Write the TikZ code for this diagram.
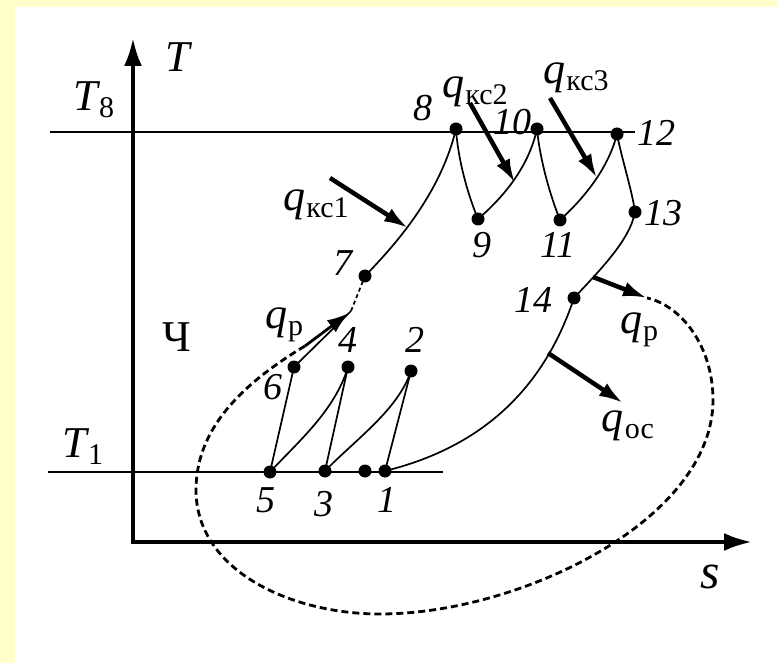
\documentclass[tikz,border=0pt]{standalone}
\usepackage{fontspec}
\setmainfont{Liberation Serif}
\usetikzlibrary{arrows.meta}
\definecolor{bgy}{RGB}{255,255,204}
\newcommand\qq[1]{\textit{q}\kern1pt\raisebox{-7pt}{\fontsize{30}{30}\selectfont\upshape #1}}
\begin{document}
\begin{tikzpicture}[x=1pt,y=-1pt,
  dot/.style={circle,fill=black,inner sep=0pt,minimum size=13pt},
  curve/.style={line width=1.7pt},
  level/.style={line width=2.2pt},
  axis/.style={line width=4pt,-{Latex[length=28pt,width=18pt]}},
  heat/.style={line width=4.5pt,-{Latex[length=24pt,width=15pt]}},
  loopline/.style={line width=2.8pt,dash pattern=on 7pt off 4pt},
  num/.style={font=\fontsize{38}{38}\selectfont\itshape,inner sep=0pt},
  big/.style={font=\fontsize{44}{44}\selectfont\itshape,inner sep=0pt},
  qlbl/.style={font=\fontsize{44}{44}\selectfont,inner sep=0pt},
]
\fill[bgy] (0,0) rectangle (777,663);
\fill[white] (15,7) rectangle (777,663);
\useasboundingbox (0,0) rectangle (777,663);

% axes
\coordinate (o) at (133,544);
\coordinate (ytip) at (133,38);
\coordinate (ox) at (131,542);
\coordinate (xtip) at (752,542);
\draw[axis] (o) -- (ytip);
\draw[axis] (ox) -- (xtip);

% level lines
\coordinate (t8a) at (50,132);
\coordinate (t8b) at (635,132);
\coordinate (t1a) at (48,472);
\coordinate (t1b) at (443,472);
\draw[level] (t8a) -- (t8b);
\draw[level] (t1a) -- (t1b);

% points
\node[dot] (n1) at (385,471) {};
\node[dot] (n2) at (411,371) {};
\node[dot] (n3) at (325,471) {};
\node[dot] (n4) at (348,367) {};
\node[dot] (n5) at (270,472) {};
\node[dot] (n6) at (294,367) {};
\node[dot] (n7) at (365,276) {};
\node[dot] (n8) at (456,129) {};
\node[dot] (n9) at (478,219) {};
\node[dot] (n10) at (537,129) {};
\node[dot] (n11) at (560,220) {};
\node[dot] (n12) at (617,134) {};
\node[dot] (n13) at (635,212) {};
\node[dot] (n14) at (574,298) {};
\node[dot] (ne) at (365,471) {};

% process curves
\draw[curve] (n5.center) -- (n6.center);
\draw[curve] (n5.center) .. controls (300,440) and (335,410) .. (n4.center);
\draw[curve] (n3.center) -- (n4.center);
\draw[curve] (n3.center) .. controls (355,440) and (398,410) .. (n2.center);
\draw[curve] (n1.center) -- (n2.center);
\draw[curve] (n1.center) .. controls (470,450) and (540,400) .. (n14.center);
\draw[curve] (n14.center) .. controls (600,270) and (630,240) .. (n13.center);
\draw[curve] (n12.center) .. controls (622,160) and (632,190) .. (n13.center);
\draw[curve] (n8.center) .. controls (458,160) and (468,195) .. (n9.center);
\draw[curve] (n9.center) .. controls (500,200) and (528,170) .. (n10.center);
\draw[curve] (n10.center) .. controls (540,160) and (550,195) .. (n11.center);
\draw[curve] (n11.center) .. controls (582,200) and (608,170) .. (n12.center);
\draw[curve] (n7.center) .. controls (395,245) and (440,195) .. (n8.center);
\coordinate (m67) at (351,311);
\draw[curve] (n6.center) -- (m67);
\draw[curve,dash pattern=on 4pt off 3pt] (m67) -- (n7.center);

% heat arrows
\coordinate (k1a) at (330,178);
\coordinate (k1b) at (408,228);
\coordinate (k2a) at (470,103);
\coordinate (k2b) at (515,183);
\coordinate (k3a) at (550,98);
\coordinate (k3b) at (597,178);
\coordinate (oca) at (548,353);
\coordinate (ocb) at (623,403);
\coordinate (pra) at (593,277);
\coordinate (prb) at (647,298);
\coordinate (pla) at (305,346);
\coordinate (plb) at (349,313);
\draw[heat] (k1a) -- (k1b);
\draw[heat] (k2a) -- (k2b);
\draw[heat] (k3a) -- (k3b);
\draw[heat] (oca) -- (ocb);
\draw[heat] (pra) -- (prb);
\draw[line width=2.8pt,-{Latex[length=22pt,width=15pt]}] (pla) -- (plb);

% regeneration loop
\draw[loopline] (pla) .. controls (240,385) and (196,430) .. (196,490)
  .. controls (196,570) and (290,614) .. (380,614)
  .. controls (520,614) and (713,520) .. (713,400)
  .. controls (713,345) and (680,305) .. (prb);

% labels
\node[big] (lT) at (178,57) {T};
\node[big] (lT8) at (94,100) {T\kern1pt\raisebox{-7pt}{\fontsize{30}{30}\selectfont\upshape 8}};
\node[big] (lT1) at (83,447) {T\kern1pt\raisebox{-7pt}{\fontsize{30}{30}\selectfont\upshape 1}};
\node[font=\fontsize{50}{50}\selectfont\itshape,inner sep=0pt] (ls) at (710,577) {s};
\node[font=\fontsize{44}{44}\selectfont,inner sep=0pt] (lch) at (177,337) {Ч};

\node[num] (l1) at (387,500) {1};
\node[num] (l2) at (415,340) {2};
\node[num] (l3) at (324,504) {3};
\node[num] (l4) at (348,340) {4};
\node[num] (l5) at (266,500) {5};
\node[num] (l6) at (273,387) {6};
\node[num] (l7) at (343,263) {7};
\node[num] (l8) at (423,108) {8};
\node[num] (l9) at (482,245) {9};
\node[num] (l10) at (512,122) {10};
\node[num] (l11) at (558,245) {11};
\node[num] (l12) at (656,133) {12};
\node[num] (l13) at (663,213) {13};
\node[num] (l14) at (533,300) {14};

\node[qlbl] (qk1) at (316,205) {\qq{кс1}};
\node[qlbl] (qk2) at (475,92) {\qq{кс2}};
\node[qlbl] (qk3) at (576,78) {\qq{кс3}};
\node[qlbl] (qpl) at (284,325) {\qq{р}};
\node[qlbl] (qpr) at (639,330) {\qq{р}};
\node[qlbl] (qoc) at (628,426) {\qq{ос}};
\end{tikzpicture}
\end{document}
